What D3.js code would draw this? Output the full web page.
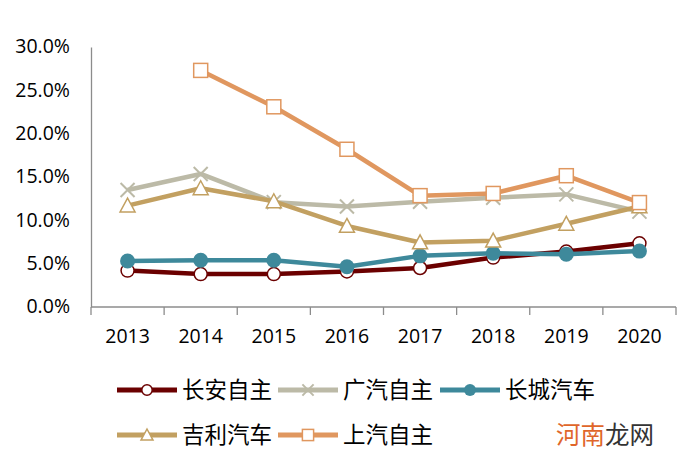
<!DOCTYPE html>
<html><head><meta charset="utf-8">
<script src="https://cdn.jsdelivr.net/npm/d3@7"></script>
<style>
body{margin:0;background:#fff;}
svg{display:block;}
.tick text{font-family:"Open Sans",sans-serif;}
</style></head>
<body><svg id="c" width="694" height="467"></svg>
<script>
const years = ["2013","2014","2015","2016","2017","2018","2019","2020"];
const yTicks = [0,0.05,0.10,0.15,0.20,0.25,0.30];
const seriesNames = ["长安自主","广汽自主","长城汽车","吉利汽车","上汽自主"];
const changan = [4.2,3.8,3.8,4.1,4.5,5.7,6.4,7.35];
const guangqi = [13.5,15.35,12.1,11.6,12.15,12.6,13.0,11.0];
const changcheng = [5.3,5.4,5.4,4.65,5.9,6.2,6.1,6.45];
const jili = [11.7,13.7,12.2,9.35,7.45,7.65,9.6,11.6];
const shangqi = [null,27.3,23.1,18.2,12.85,13.1,15.15,12.05];
const watermark = ["河南","龙网"];

const colors = ["#6b0000","#bcbaa7","#3e899b","#c2a061","#e0975f"];
const markers = ["circle","x","dot","triangle","square"];
const allData = [changan,guangqi,changcheng,jili,shangqi];

const svg = d3.select("#c");
const pL=91,pR=676,pT=47,pB=307;
const x = d3.scaleBand().domain(years).range([pL,pR]).padding(0);
const y = d3.scaleLinear().domain([0,0.30]).range([pB,pT]);

// y axis
const ya = svg.append("g").attr("transform",`translate(${pL},0)`)
  .call(d3.axisLeft(y).tickValues(yTicks).tickFormat(d3.format(".1%")).tickSize(0).tickPadding(21));
ya.select(".domain").attr("stroke","#8c8c8c").attr("stroke-width",1.3);
ya.selectAll("text").attr("font-size",19.5).attr("fill","#000").attr("dy","0.3em");

// x axis
const xa = svg.append("g").attr("transform",`translate(0,${pB})`)
  .call(d3.axisBottom(x).tickSize(0).tickPadding(22));
xa.select(".domain").remove();
xa.selectAll("text").attr("font-size",19.5).attr("fill","#000");
svg.append("line").attr("x1",pL).attr("x2",pR).attr("y1",pB).attr("y2",pB)
  .attr("stroke","#8c8c8c").attr("stroke-width",1.3);
const edges = years.map(d=>x(d)).concat([x.range()[1]]);
svg.append("g").selectAll("line").data(edges).join("line")
  .attr("x1",d=>d).attr("x2",d=>d).attr("y1",pB).attr("y2",pB+8)
  .attr("stroke","#8c8c8c").attr("stroke-width",1.3);

function drawMarker(g,type,color,cx,cy,s){
  if(type==="circle"){
    g.append("circle").attr("cx",cx).attr("cy",cy).attr("r",6.5*s).attr("fill","#fff").attr("stroke",color).attr("stroke-width",1.5);
  } else if(type==="dot"){
    g.append("circle").attr("cx",cx).attr("cy",cy).attr("r",7.5*s).attr("fill",color);
  } else if(type==="square"){
    const h=7*s;
    g.append("rect").attr("x",cx-h).attr("y",cy-h).attr("width",2*h).attr("height",2*h).attr("fill","#fff").attr("stroke",color).attr("stroke-width",1.5);
  } else if(type==="triangle"){
    const h=7.5*s;
    g.append("path").attr("d",`M${cx},${cy-h}L${cx+h},${cy+h*0.85}L${cx-h},${cy+h*0.85}Z`).attr("fill","#fff").attr("stroke",color).attr("stroke-width",1.5);
  } else if(type==="x"){
    const h=7*s;
    g.append("path").attr("d",`M${cx-h},${cy-h}L${cx+h},${cy+h}M${cx-h},${cy+h}L${cx+h},${cy-h}`).attr("stroke",color).attr("stroke-width",2);
  }
}

const line = d3.line().defined(d=>d.v!=null).x(d=>x(d.year)+x.bandwidth()/2).y(d=>y(d.v/100));
allData.forEach((arr,i)=>{
  const pts = years.map((yr,j)=>({year:yr,v:arr[j]}));
  const g = svg.append("g");
  g.append("path").datum(pts).attr("d",line).attr("fill","none").attr("stroke",colors[i]).attr("stroke-width",4.5).attr("stroke-linejoin","round");
  pts.filter(p=>p.v!=null).forEach(p=>drawMarker(g,markers[i],colors[i],x(p.year)+x.bandwidth()/2,y(p.v/100),1));
});

// legend
const legPos = [[117,390],[278,390],[440,390],[117,435],[278,435]];
seriesNames.forEach((n,i)=>{
  const [lx,ly]=legPos[i];
  const g=svg.append("g");
  g.append("line").attr("x1",lx).attr("x2",lx+60).attr("y1",ly).attr("y2",ly).attr("stroke",colors[i]).attr("stroke-width",5);
  drawMarker(g,markers[i],colors[i],lx+30,ly,0.8);
  g.append("text").attr("x",lx+65).attr("y",ly).attr("dy","0.36em").attr("font-size",22.5)
    .attr("font-family","'Noto Sans CJK SC',sans-serif").attr("fill","#000").text(n);
});
const wm = svg.append("text").attr("x",556).attr("y",435).attr("dy","0.36em").attr("font-size",24.5)
  .attr("font-family","'Noto Sans CJK SC',sans-serif");
wm.append("tspan").attr("fill","#e0662a").text(watermark[0]);
wm.append("tspan").attr("fill","#333").text(watermark[1]);
</script></body></html>
